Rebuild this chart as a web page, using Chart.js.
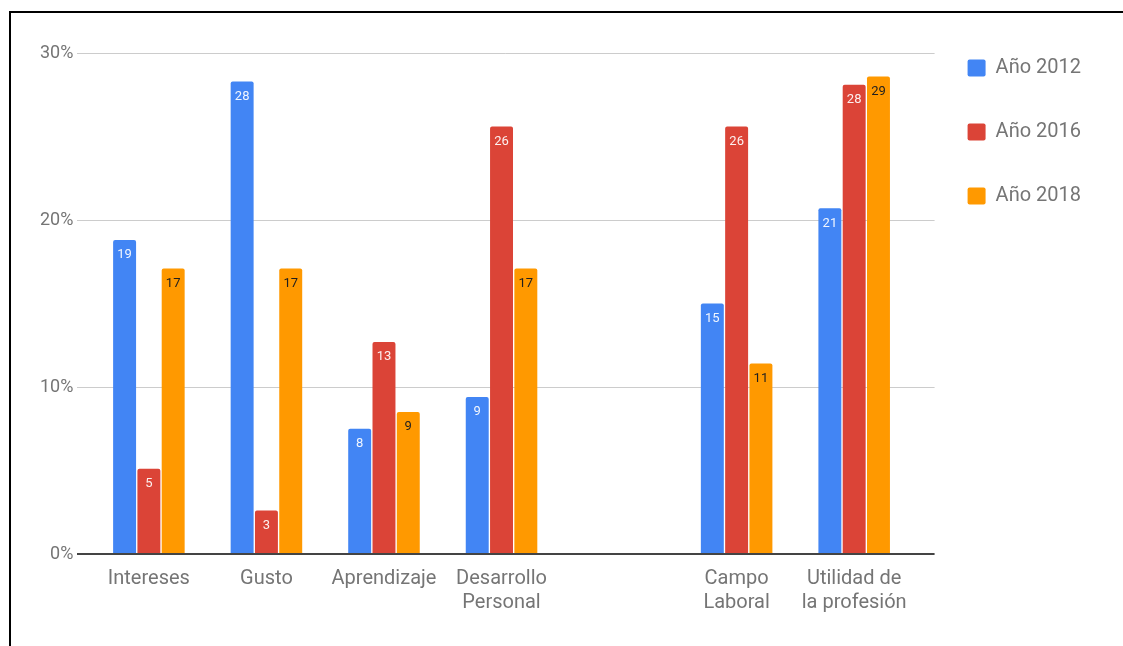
<!DOCTYPE html>
<html>
<head>
<meta charset="utf-8">
<script src="https://cdn.jsdelivr.net/npm/chart.js@4.4.1/dist/chart.umd.min.js"></script>
<style>
  html, body { margin: 0; padding: 0; background: #ffffff; }
  #wrap { position: relative; width: 1123px; height: 646px; overflow: hidden; }
  #wrap canvas { position: absolute; left: 0; top: 0; }
  #frame { position: absolute; left: 9px; top: 11px; right: -10px; bottom: -10px;
           border-top: 2px solid #000; border-left: 2px solid #000; pointer-events: none; }
</style>
</head>
<body>
<div id="wrap">
  <canvas id="chart" width="1123" height="646"></canvas>
  <div id="frame"></div>
</div>
<script>
// Categories (the blank entry leaves an empty slot between the two groups)
const categories = ['Intereses', 'Gusto', 'Aprendizaje', ['Desarrollo', 'Personal'], '', ['Campo', 'Laboral'], ['Utilidad de', 'la profesión']];
const seriesNames = ['Año 2012', 'Año 2016', 'Año 2018'];
// Percentages per category
const values2012 = [18.8, 28.3, 7.5, 9.4, null, 15.0, 20.7];
const values2016 = [5.1, 2.6, 12.7, 25.6, null, 25.6, 28.1];
const values2018 = [17.1, 17.1, 8.5, 17.1, null, 11.4, 28.6];
const yTicks = [0, 10, 20, 30];

const seriesColors = ['#4285F4', '#DB4437', '#FF9900'];
const labelColors = ['rgba(255,255,255,0.92)', 'rgba(255,255,255,0.92)', '#1f1f1f'];
const greyText = '#757575';

Chart.defaults.font.family = 'Roboto, "Noto Sans", sans-serif';

// Rounded value printed just inside the top of each bar
const valueLabels = {
  id: 'valueLabels',
  afterDatasetsDraw(chart) {
    const ctx = chart.ctx;
    ctx.save();
    ctx.font = '13px Roboto, sans-serif';
    ctx.textAlign = 'center';
    ctx.textBaseline = 'middle';
    chart.data.datasets.forEach((ds, di) => {
      const meta = chart.getDatasetMeta(di);
      meta.data.forEach((bar, i) => {
        const v = ds.data[i];
        if (v === null || v === undefined) return;
        ctx.fillStyle = labelColors[di];
        ctx.fillText(String(Math.round(v)), bar.x, bar.y + 15);
      });
    });
    ctx.restore();
  }
};

const seriesValues = [values2012, values2016, values2018];

new Chart(document.getElementById('chart'), {
  type: 'bar',
  data: {
    labels: categories.map((_, i) => i),
    datasets: seriesNames.map((name, i) => ({
      label: name,
      data: seriesValues[i],
      backgroundColor: seriesColors[i],
      borderRadius: 2,
      borderSkipped: 'start',
      categoryPercentage: 0.62,
      barPercentage: 0.945
    }))
  },
  options: {
    responsive: false,
    animation: false,
    events: [],
    layout: { padding: { left: 36, right: 32, top: 25, bottom: 26 } },
    scales: {
      x: {
        type: 'linear',
        offset: false,
        bounds: 'data',
        min: -0.608,
        max: 6.684,
        grid: { display: false },
        border: { display: false },
        afterBuildTicks: (scale) => {
          scale.ticks = categories
            .map((c, i) => ({ value: i }))
            .filter((t) => categories[t.value] !== '');
        },
        ticks: {
          autoSkip: false,
          maxRotation: 0,
          padding: 5,
          color: greyText,
          font: { size: 20, lineHeight: 1.2 },
          callback: (v) => categories[v]
        }
      },
      y: {
        min: 0,
        max: 30,
        border: { display: false },
        afterBuildTicks: (scale) => {
          scale.ticks = yTicks.map((v) => ({ value: v }));
        },
        grid: {
          drawTicks: false,
          color: (c) => (c.tick && c.tick.value === 0 ? '#444444' : '#cccccc'),
          lineWidth: (c) => (c.tick && c.tick.value === 0 ? 2 : 1)
        },
        ticks: {
          padding: 4,
          color: greyText,
          font: { size: 18 },
          callback: (v) => v + '%'
        }
      }
    },
    plugins: {
      title: {
        display: true,
        text: '',
        fullSize: false,
        padding: 0,
        font: { size: 10, lineHeight: '28px' }
      },
      legend: {
        position: 'right',
        align: 'start',
        labels: {
          boxWidth: 18,
          boxHeight: 17,
          padding: 33,
          color: greyText,
          useBorderRadius: true,
          borderRadius: 2,
          font: { size: 20, lineHeight: '31px' },
          generateLabels: (chart) => chart.data.datasets.map((ds, i) => ({
            text: [ds.label],
            fillStyle: ds.backgroundColor,
            strokeStyle: ds.backgroundColor,
            lineWidth: 0,
            borderRadius: 2,
            fontColor: greyText,
            hidden: false,
            datasetIndex: i
          }))
        }
      },
      tooltip: { enabled: false }
    }
  },
  plugins: [valueLabels]
});
</script>
</body>
</html>
